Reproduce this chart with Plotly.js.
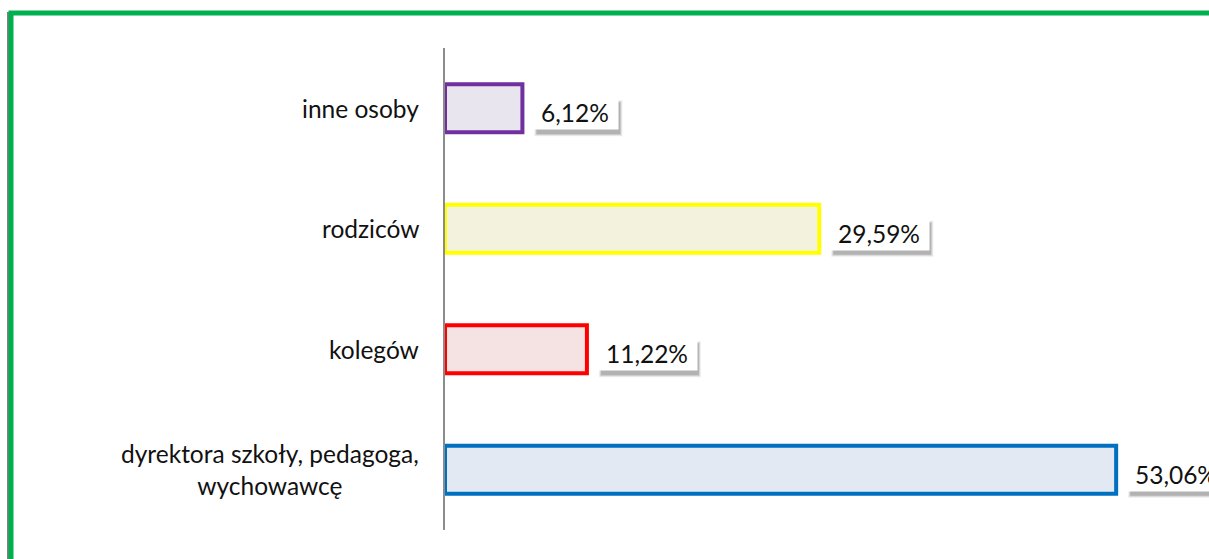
<!DOCTYPE html>
<html>
<head>
<meta charset="utf-8">
<script src="https://cdn.plot.ly/plotly-3.0.1.min.js"></script>
<style>
html,body{margin:0;padding:0;background:#fff;overflow:hidden;}
#chart{width:1209px;height:559px;}
</style>
</head>
<body>
<div id="chart"></div>
<script>
// Data (bottom to top)
const categories = ["dyrektora szkoły, pedagoga,<br>wychowawcę", "kolegów", "rodziców", "inne osoby"];
const values = [53.06, 11.22, 29.59, 6.12];
const valueLabels = ["53,06%", "11,22%", "29,59%", "6,12%"];
const fillColors = ["#e2e9f2", "#f5e2e2", "#f3f3dd", "#e9e5ef"];
const lineColors = ["#0070c0", "#ff0000", "#ffff00", "#7030a0"];

const FONT = "Lato, 'Open Sans', sans-serif";
const FS = 24.5;

const cv = document.createElement("canvas").getContext("2d");
cv.font = FS + "px Lato";
function textW(t) { return cv.measureText(t).width; }

const trace = {
  type: "bar",
  orientation: "h",
  y: categories,
  x: values,
  width: 0.4,
  marker: { color: fillColors, line: { color: lineColors, width: 4 } },
  hoverinfo: "none"
};

const annotations = [];
const shapes = [];
const BOX_H = 34, YS = -4, XS = 9;
categories.forEach((c, i) => {
  const w = Math.round(textW(valueLabels[i]) + 18);
  // soft shadow (stacked translucent rects)
  [[0, 0.16], [1, 0.10], [2, 0.07]].forEach(([g, op]) => {
    shapes.push({
      type: "rect", xref: "x", yref: "y",
      xsizemode: "pixel", ysizemode: "pixel",
      xanchor: values[i], yanchor: c,
      x0: XS + 4 - g + 1, x1: XS + w + 4 + g - 1,
      y0: YS - BOX_H / 2 - 6 - g + 1, y1: YS + BOX_H / 2 - 6 + g - 1,
      fillcolor: "rgba(0,0,0," + op + ")", line: { width: 0 }, layer: "above"
    });
  });
  annotations.push({
    x: values[i], y: c, xref: "x", yref: "y",
    xanchor: "left", yanchor: "middle",
    xshift: XS, yshift: YS,
    text: valueLabels[i], showarrow: false,
    width: w, height: BOX_H, borderpad: 0,
    bgcolor: "#ffffff",
    font: { family: FONT, size: FS, color: "#111111" }
  });
  // category label
  annotations.push({
    x: 0, y: c, xref: "x", yref: "y",
    xanchor: "right", yanchor: "middle",
    xshift: -24,
    text: c, showarrow: false, align: "center",
    font: { family: FONT, size: FS, color: "#111111" }
  });
});

// green frame (with thin grey shade on the left)
shapes.push({ type: "line", xref: "paper", yref: "paper",
  x0: (8 - 445) / 764, x1: (8 - 445) / 764, y0: -1, y1: (530 - 12) / 482,
  line: { color: "#7f7f7f", width: 2 }, layer: "above" });
shapes.push({ type: "rect", xref: "paper", yref: "paper",
  x0: (11 - 445) / 764, x1: 2, y0: -1, y1: (530 - 13) / 482,
  line: { color: "#00b050", width: 5 }, layer: "above" });

const layout = {
  width: 1209, height: 559,
  margin: { l: 445, r: 0, t: 48, b: 29, pad: 0 },
  paper_bgcolor: "#ffffff", plot_bgcolor: "#ffffff",
  showlegend: false,
  xaxis: { range: [0, 60.4], showgrid: false, zeroline: false, showticklabels: false, showline: false, ticks: "" },
  yaxis: { range: [-0.5, 3.5], showgrid: false, zeroline: false, showticklabels: false, showline: true, linecolor: "#8c8c8c", linewidth: 2, ticks: "" },
  annotations: annotations,
  shapes: shapes
};

Plotly.newPlot("chart", [trace], layout, { staticPlot: true, displayModeBar: false });
</script>
</body>
</html>
